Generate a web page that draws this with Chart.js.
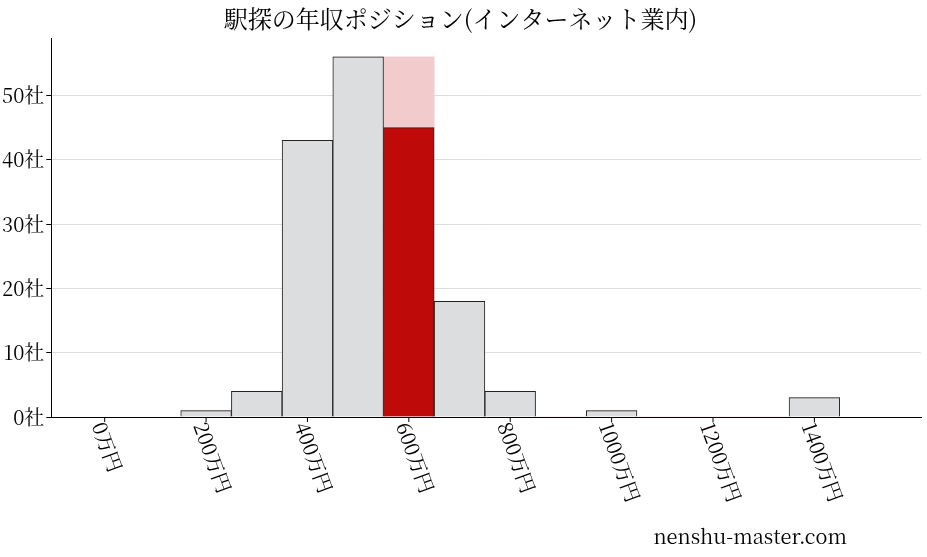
<!DOCTYPE html>
<html><head><meta charset="utf-8">
<script src="https://cdn.jsdelivr.net/npm/chart.js@4"></script>
<style>body{margin:0;background:#fff}</style>
</head><body><canvas id="c" width="927" height="557"></canvas>
<script>
const bins=[200,300,400,500,600,700,800,900,1000,1100,1200,1300,1400];
const counts=[1,4,43,56,45,18,4,0,1,0,0,0,3];
const highlightTop=[0,0,0,0,11,0,0,0,0,0,0,0,0];
const xTicks=[0,200,400,600,800,1000,1200,1400];
const yTicks=[0,10,20,30,40,50];
const F='"Noto Serif CJK JP","Noto Sans CJK JP",serif';
const tickPlugin={id:'tp',afterDraw(ch){const c=ch.ctx,s=ch.scales.x,b=ch.chartArea.bottom;c.save();c.font='20px '+F;c.fillStyle='#000';c.strokeStyle='#000';
xTicks.forEach(v=>{const px=s.getPixelForValue(v);c.save();c.translate(px-6,b+6);c.rotate(70*Math.PI/180);c.textBaseline='middle';c.fillText(v+'万円',0,0);c.restore();
c.beginPath();c.moveTo(px,b);c.lineTo(px,b+5);c.stroke();});
c.textAlign='right';c.fillText('nenshu-master.com',847,544);c.restore();}};
new Chart(document.getElementById('c'),{type:'bar',
data:{labels:bins,datasets:[
{data:bins.map((x,i)=>({x,y:counts[i]})),backgroundColor:bins.map(x=>x===600?'#bf0a0a':'#dcdddf'),borderColor:'#222',borderWidth:1,barPercentage:1,categoryPercentage:1,stack:'s'},
{data:bins.map((x,i)=>({x,y:highlightTop[i]})),backgroundColor:'#f2cccc',borderWidth:0,barPercentage:1,categoryPercentage:1,stack:'s'}]},
options:{responsive:false,animation:false,devicePixelRatio:1,
layout:{padding:{left:0,right:6,bottom:0}},
plugins:{legend:{display:false},tooltip:{enabled:false},title:{display:true,text:'駅探の年収ポジション(インターネット業内)',font:{family:F,size:24,weight:'normal'},color:'#000',padding:{top:4,bottom:6}}},
scales:{x:{type:'linear',min:-10,max:1515,stacked:true,grid:{display:false},border:{color:'#000'},ticks:{display:false},afterFit(s){s.height=140}},
y:{stacked:true,min:0,max:58.8,border:{color:'#000'},grid:{color:'#ddd',tickLength:5,tickColor:'#000'},afterBuildTicks(s){s.ticks=yTicks.map(v=>({value:v}))},ticks:{color:'#000',font:{family:F,size:20},callback:v=>v+'社',padding:2}}}},
plugins:[tickPlugin]});
</script></body></html>
